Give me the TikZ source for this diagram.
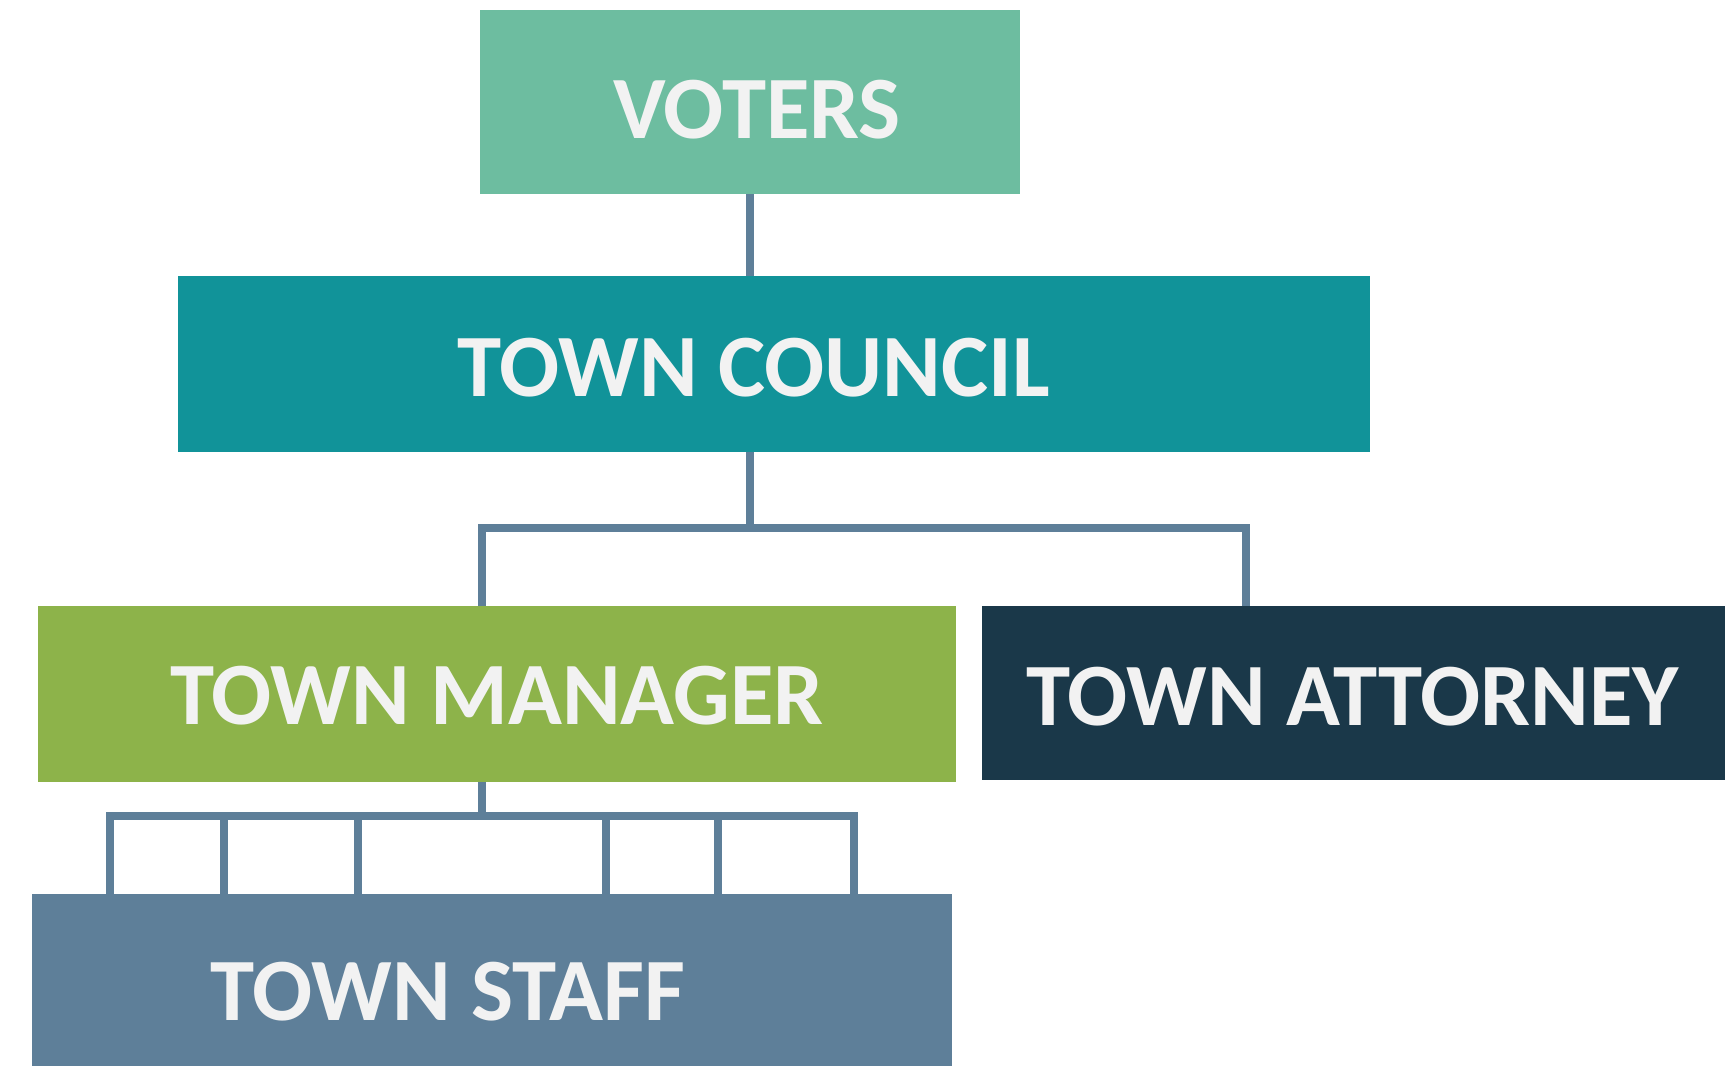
\documentclass[tikz,border=0pt]{standalone}
\usepackage{fontspec}
\setmainfont{Carlito}
\usepackage{tikz}
\definecolor{votersgreen}{HTML}{6DBDA0}
\definecolor{councilteal}{HTML}{119399}
\definecolor{managergreen}{HTML}{8DB34A}
\definecolor{attorneyblue}{HTML}{1A3849}
\definecolor{linkblue}{HTML}{5E7F99}
\definecolor{lighttext}{HTML}{F2F2F2}

\begin{document}
\begin{tikzpicture}[x=1pt,y=-1pt,
  box/.style={rectangle,inner sep=0pt,outer sep=0pt},
  lbl/.style={text=lighttext,inner sep=0pt,font=\fontsize{89}{100}\selectfont\bfseries},
  conn/.style={draw=linkblue,line width=8pt}]
\useasboundingbox (0,0) rectangle (1729,1066);
% boxes
\node[box,fill=votersgreen,minimum width=540pt,minimum height=184pt,
  label={[lbl,xshift=7pt,yshift=-8pt]center:VOTERS}] (voters) at (750,102) {};
\node[box,fill=councilteal,minimum width=1192pt,minimum height=176pt,
  label={[lbl,xshift=-20pt,yshift=-4pt]center:TOWN COUNCIL}] (council) at (774,364) {};
\node[box,fill=managergreen,minimum width=918pt,minimum height=176pt,
  label={[lbl,yshift=-2pt]center:TOWN MANAGER}] (manager) at (497,694) {};
\node[box,fill=attorneyblue,minimum width=743pt,minimum height=174pt,
  label={[lbl,xshift=-1pt,yshift=-4pt]center:TOWN ATTORNEY}] (attorney) at (1353.5,693) {};
\node[box,fill=linkblue,minimum width=920pt,minimum height=172pt,
  label={[lbl,xshift=-44pt,yshift=-12pt]center:TOWN STAFF}] (staff) at (492,980) {};
% bus points
\coordinate (cstub) at (750,524);
\coordinate (cleft) at (482,528);
\coordinate (cright) at (1246,528);
\coordinate (mbus) at (482,816);
\coordinate (sleft) at (110,816);
\coordinate (sright) at (854,816);
% connectors
\draw[conn] (voters.south) -- (voters.south |- council.north);
\draw[conn] (voters.south |- council.south) -- (cstub);
\draw[conn] (manager.north -| cleft) |- (cright) -- (attorney.north -| cright);
\draw[conn] (manager.south -| mbus) -- (mbus);
\draw[conn] (staff.north -| sleft) |- (sright) -- (staff.north -| sright);
\foreach \x in {224,358,606,718}
  \draw[conn] (\x,816) -- (\x,816 |- staff.north);
\end{tikzpicture}
\end{document}
